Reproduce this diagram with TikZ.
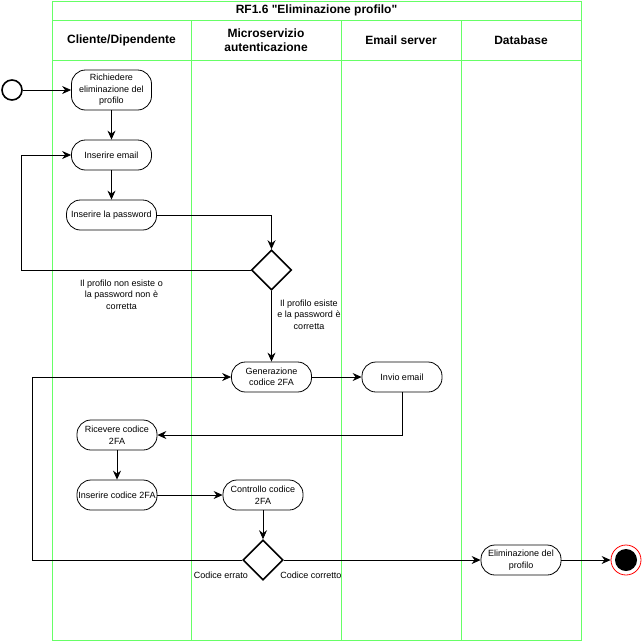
\documentclass[tikz,border=0pt]{standalone}
\usepackage{fontspec}
\setmainfont{Liberation Sans}[Ligatures=TeXOff]
\usetikzlibrary{arrows.meta,shapes.geometric}

\definecolor{laneGreen}{HTML}{66FF66}
\definecolor{endRed}{HTML}{FF0000}

\providecommand{\PoolLeft}{52}
\providecommand{\PoolRight}{581}
\providecommand{\PoolTop}{1}
\providecommand{\PoolBottom}{640}
\providecommand{\TitleLine}{20}
\providecommand{\HeadLine}{60}

\tikzset{
    lane/.style={draw=laneGreen, line width=1pt},
    lanehead/.style={align=center, font=\bfseries\fontsize{12}{14}\selectfont},
    activity/.style={
        draw, line width=0.8pt, rounded corners=14pt,
        minimum width=80pt, minimum height=30pt, inner sep=1pt,
        align=center, font=\fontsize{9}{11.5}\selectfont
    },
    decision/.style={draw, diamond, line width=1.6pt, minimum width=40pt, minimum height=40pt, inner sep=0pt},
    initstate/.style={draw, circle, line width=1.6pt, minimum size=20pt, inner sep=0pt},
    endstate/.style={
        draw=endRed, circle, line width=0.8pt, minimum size=30pt, inner sep=0pt,
        path picture={\fill[black] (path picture bounding box.center) circle (11pt);}
    },
    guard/.style={align=center, font=\fontsize{9}{11.5}\selectfont},
    flow/.style={line width=0.8pt, -{Stealth[length=9pt,width=8pt,inset=3pt]}}
}

\begin{document}
\begin{tikzpicture}[x=1pt,y=-1pt]

% Page frame
\useasboundingbox (0,0) rectangle (642,641);

% =====================================================
% POOL AND LANES
% =====================================================
\draw[lane] (\PoolLeft,\PoolTop) rectangle (\PoolRight,\PoolBottom);
\draw[lane] (\PoolLeft,\TitleLine) -- (\PoolRight,\TitleLine);
\draw[lane] (\PoolLeft,\HeadLine) -- (\PoolRight,\HeadLine);

% Lane dividers
\foreach \lx in {191,341,461} {
    \draw[lane] (\lx,\TitleLine) -- (\lx,\PoolBottom);
}

\node[lanehead] (title) at (316.5,10.5) {RF1.6 "Eliminazione profilo"};

\node[lanehead] (hclient) at (121.5,40) {Cliente/Dipendente};
\node[lanehead] (hauth) at (266,40) {Microservizio\\autenticazione};
\node[lanehead] (hmail) at (401,40) {Email server};
\node[lanehead] (hdb) at (521,40) {Database};

% =====================================================
% LOGIN PART
% =====================================================
\node[initstate] (start) at (12,90) {};

\node[activity, minimum height=40pt] (req) at (111.5,90) {Richiedere\\eliminazione del\\profilo};
\node[activity] (email) at (111.5,155) {Inserire email};
\node[activity, minimum width=90pt] (pwd) at (111.5,215) {Inserire la password};

\node[decision] (check1) at (271.5,270) {};
\coordinate (loopA) at (21,270);

\node[guard] (nolabel) at (121.5,294.5) {Il profilo non esiste o\\la password non è\\corretta};
\node[guard] (oklabel) at (309,314.5) {Il profilo esiste\\e la password è\\corretta};

% =====================================================
% 2FA PART
% =====================================================
\node[activity] (gen) at (271.5,377) {Generazione\\codice 2FA};
\node[activity] (mail) at (402,377) {Invio email};

\node[activity] (recv) at (117,435) {Ricevere codice\\2FA};
\node[activity] (ins2) at (117,495) {Inserire codice 2FA};
\node[activity] (ctrl) at (263,495) {Controllo codice\\2FA};

\node[decision] (check2) at (263,560) {};
\coordinate (loopB) at (32,560);

\node[guard] (wrong) at (221,575.5) {Codice errato};
\node[guard] (right) at (311,575.5) {Codice corretto};

\node[activity] (del) at (521,560) {Eliminazione del\\profilo};
\node[endstate] (stop) at (626,560) {};

% =====================================================
% FLOWS
% =====================================================
\draw[flow] (start) -- (req);
\draw[flow] (req) -- (email);
\draw[flow] (email) -- (pwd);
\draw[flow] (pwd.east) -| (check1.north);
\draw[flow] (check1.west) -- (loopA) |- (email.west);
\draw[flow] (check1.south) -- (gen.north);
\draw[flow] (gen) -- (mail);
\draw[flow] (mail.south) |- (recv.east);
\draw[flow] (recv) -- (ins2);
\draw[flow] (ins2) -- (ctrl);
\draw[flow] (ctrl) -- (check2);
\draw[flow] (check2.west) -- (loopB) |- (gen.west);
\draw[flow] (check2.east) -- (del.west);
\draw[flow] (del) -- (stop);

\end{tikzpicture}
\end{document}
